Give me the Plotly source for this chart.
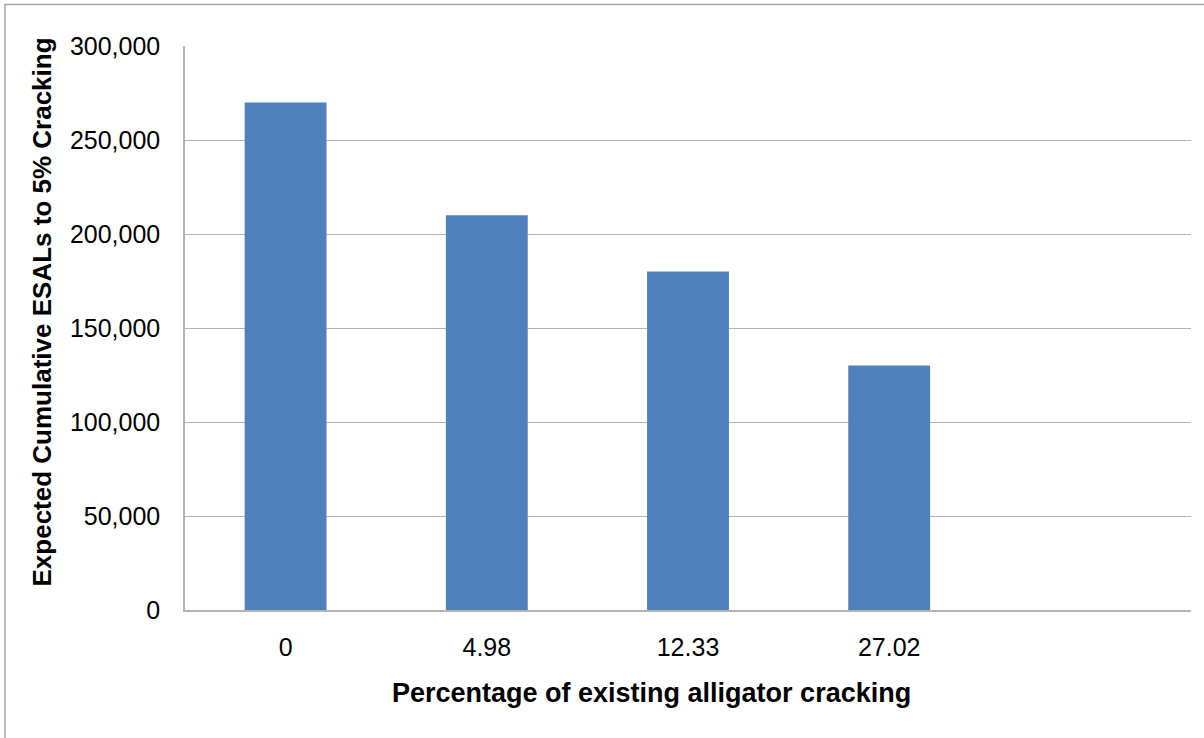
import plotly.graph_objects as go

crack_pct = ["0", "4.98", "12.33", "27.02"]
esals = [270000, 210000, 180000, 130000]
y_ticks = [0, 50000, 100000, 150000, 200000, 250000, 300000]

BAR = "#4F81BD"
GRID = "#B3B3B3"
FONT = "Liberation Sans, Arial, sans-serif"

fig = go.Figure()

fig.add_trace(go.Bar(
    x=crack_pct,
    y=esals,
    marker=dict(color=BAR, line=dict(width=0)),
    showlegend=False,
))

fig.update_layout(
    width=1204, height=738,
    margin=dict(l=185, r=13, t=46, b=128),
    bargap=0.593,
    plot_bgcolor="white",
    paper_bgcolor="white",
    font=dict(family=FONT, size=25, color="black"),
    xaxis=dict(
        type="category",
        categoryorder="array",
        categoryarray=crack_pct + [" "],
        range=[-0.5, 4.5],
        showgrid=False,
        showline=True, linecolor=GRID, linewidth=1.5,
        ticks="", ticklabelstandoff=14,
        tickfont=dict(size=25),
    ),
    yaxis=dict(
        range=[0, 300000],
        tickvals=y_ticks,
        tickformat=",d",
        showgrid=True, gridcolor=GRID, gridwidth=1.2,
        showline=True, linecolor=GRID, linewidth=1.5,
        zeroline=False,
        ticks="", ticklabelstandoff=18,
        tickfont=dict(size=25),
    ),
    annotations=[
        dict(text="<b>Percentage of existing alligator cracking</b>",
             xref="paper", yref="paper",
             x=(651 - 185) / 1006, y=(609.5 - 692) / 564,
             showarrow=False, xanchor="center", yanchor="middle",
             font=dict(size=27)),
        dict(text="<b>Expected Cumulative ESALs to 5% Cracking</b>",
             xref="paper", yref="paper",
             x=(42 - 185) / 1006, y=(609.5 - 312) / 564,
             textangle=-90,
             showarrow=False, xanchor="center", yanchor="middle",
             font=dict(size=26)),
    ],
    shapes=[
        dict(type="rect", xref="paper", yref="paper",
             x0=(5 - 185) / 1006, x1=(1212 - 185) / 1006,
             y0=(609.5 - 750) / 564, y1=(609.5 - 4) / 564,
             line=dict(color="#A6A6A6", width=1.5), layer="below"),
    ],
)

fig.write_html("out.html", config={"displayModeBar": False},
               post_script="document.body.style.margin='0';")
